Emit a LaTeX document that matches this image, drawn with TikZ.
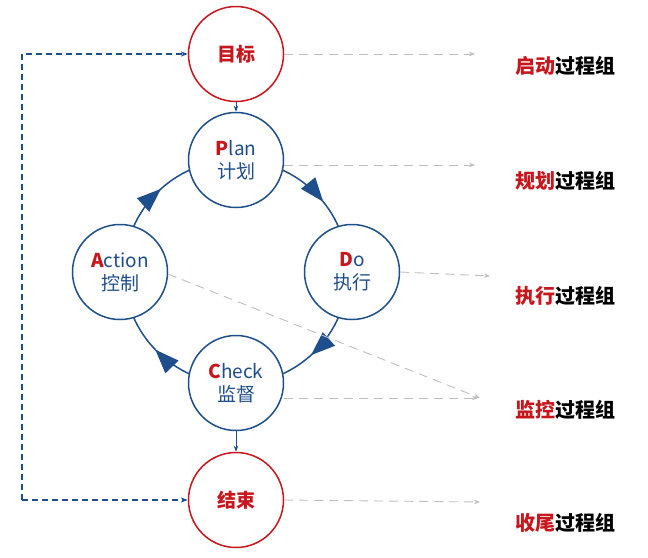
\documentclass[tikz,border=0pt]{standalone}
\usepackage{fontspec}
\setmainfont{Noto Sans CJK SC}
\usetikzlibrary{arrows.meta,decorations.markings}
\definecolor{bl}{HTML}{1F4E8C}
\definecolor{rd}{HTML}{C8161D}
\definecolor{gr}{HTML}{BDBDBD}
\begin{document}
\begin{tikzpicture}[x=1pt,y=-1pt,
  cir/.style={circle,draw=bl,line width=1.5pt,fill=white,minimum size=95pt,inner sep=0pt,align=center,text=bl,font=\fontsize{19}{23}\selectfont},
  rcir/.style={cir,draw=rd,text=rd,font=\fontsize{19}{23}\selectfont\bfseries},
  gline/.style={gr,dashed,dash pattern=on 9pt off 6pt,line width=0.9pt,-{Stealth[length=6pt]}},
  lab/.style={anchor=west,font=\fontsize{20}{22}\selectfont\bfseries},
  loop/.style={bl,line width=1.3pt,dash pattern=on 6pt off 4pt,-{Stealth[length=7pt]}}]
\useasboundingbox (0,0) rectangle (648,557);
\draw[bl,line width=1.5pt,postaction={decorate},decoration={markings,
  mark=at position 0.142 with {\arrow{Triangle[length=24pt,width=18pt]}},
  mark=at position 0.383 with {\arrow{Triangle[length=24pt,width=18pt]}},
  mark=at position 0.628 with {\arrow{Triangle[length=24pt,width=18pt]}},
  mark=at position 0.883 with {\arrow{Triangle[length=24pt,width=18pt]}}}]
  (236,160) arc (-90:270:112);
\node[rcir] (goal) at (236,54) {目标};
\node[cir] (plan) at (236,160) {{\color{rd}\bfseries P}lan\\计划};
\node[cir] (do) at (352,272) {{\color{rd}\bfseries D}o\\执行};
\node[cir] (act) at (120,272) {{\color{rd}\bfseries A}ction\\控制};
\node[cir] (chk) at (236,383) {{\color{rd}\bfseries C}heck\\监督};
\node[rcir] (end) at (236,500) {结束};
\draw[bl,line width=1pt,-{Stealth[length=6pt]}] (goal) -- (plan);
\draw[bl,line width=1pt,-{Stealth[length=6pt]}] (chk) -- (end);
\coordinate (c1) at (22,54);
\coordinate (c2) at (22,500);
\draw[loop] (c2) -- (c1) -- (goal);
\draw[loop] (c2) -- (end);
\node[lab] (l1) at (512,66) {{\color{rd}启动}过程组};
\node[lab] (l2) at (512,181) {{\color{rd}规划}过程组};
\node[lab] (l3) at (512,296) {{\color{rd}执行}过程组};
\node[lab] (l4) at (512,410) {{\color{rd}监控}过程组};
\node[lab] (l5) at (512,523) {{\color{rd}收尾}过程组};
\coordinate (e1) at (475,54);
\coordinate (e2) at (475,165);
\coordinate (e3) at (490,276);
\coordinate (e4) at (478,398);
\coordinate (e5) at (480,398);
\coordinate (e6) at (480,502);
\draw[gline] (goal.east) -- (e1);
\draw[gline] (284,165) -- (e2);
\draw[gline] (do.east) -- (e3);
\draw[gline] (284,398) -- (e4);
\draw[gline] (168,274) -- (e5);
\draw[gline] (end.east) -- (e6);
\end{tikzpicture}
\end{document}
